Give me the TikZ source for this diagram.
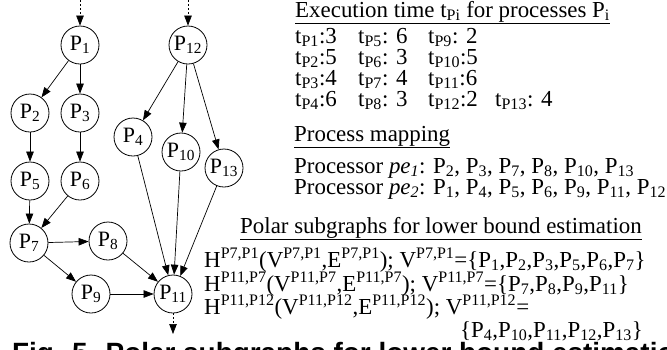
\documentclass[tikz,border=0pt]{standalone}
\usepackage{fontspec}
\setmainfont{Liberation Serif}
\newfontfamily\capfont{Liberation Sans}
\usetikzlibrary{arrows.meta}
\newcommand{\pname}[1]{P\textsubscript{#1}}
\newcommand{\tp}[1]{t\textsubscript{P#1}}
\newcommand{\hvset}[1]{H\textsuperscript{#1}(V\textsuperscript{#1},E\textsuperscript{#1}); V\textsuperscript{#1}=}
\tikzset{
	proc/.style={circle, draw=black, line width=0.8bp, inner sep=0pt, minimum size=38bp, font=\fontsize{22}{24}\selectfont},
	flow/.style={-{Triangle[length=10bp,width=7.5bp]}, line width=0.7bp},
	io/.style={flow, dash pattern=on 2bp off 2bp},
	txt/.style={anchor=base west, inner sep=0pt, font=\fontsize{23}{25}\selectfont}
}
\begin{document}
\begin{tikzpicture}[x=1bp, y=-1bp]
			\useasboundingbox (0,0) rectangle (667,349);

			\node[proc](p1) at (80,45){\pname{1}};
			\node[proc](p12) at (188,45){\pname{12}};
			\node[proc](p2) at (30,113){\pname{2}};
			\node[proc](p3) at (80,113){\pname{3}};
			\node[proc](p4) at (133,137){\pname{4}};
			\node[proc](p10) at (181,152){\pname{10}};
			\node[proc](p13) at (224,168){\pname{13}};
			\node[proc](p5) at (30,181){\pname{5}};
			\node[proc](p6) at (80,181){\pname{6}};
			\node[proc](p7) at (29,243){\pname{7}};
			\node[proc](p8) at (108,241){\pname{8}};
			\node[proc](p9) at (91,294){\pname{9}};
			\node[proc](p11) at (173,294){\pname{11}};

			\coordinate (in1) at (80,0);
			\coordinate (in12) at (188,0);
			\coordinate (out11) at (173,334);

			\draw[io] (in1) -- (p1);
			\draw[io] (in12) -- (p12);
			\draw[io] (p11) -- (out11);

			\draw[flow] (p1) -- (p2);
			\draw[flow] (p1) -- (p3);
			\draw[flow] (p2) -- (p5);
			\draw[flow] (p3) -- (p6);
			\draw[flow] (p5) -- (p7);
			\draw[flow] (p6) -- (p7);
			\draw[flow] (p7) -- (p8);
			\draw[flow] (p7) -- (p9);
			\draw[flow] (p8) -- (p11);
			\draw[flow] (p9) -- (p11);
			\draw[flow] (p12) -- (p4);
			\draw[flow] (p12) -- (p10);
			\draw[flow] (p12) -- (p13);
			\draw[flow] (p4) -- (p11);
			\draw[flow] (p10) -- (p11);
			\draw[flow] (p13) -- (p11);

			% execution times
			\node[txt](execHead) at (295,17){\underline{Execution time t\textsubscript{Pi} for processes P\textsubscript{i}}};
			\node[txt](execRow1) at (295,43){\makebox[63bp][l]{\tp{1}:3}\makebox[70bp][l]{\tp{5}: 6}\tp{9}: 2};
			\node[txt](execRow2) at (295,64){\makebox[63bp][l]{\tp{2}:5}\makebox[70bp][l]{\tp{6}: 3}\tp{10}:5};
			\node[txt](execRow3) at (295,85){\makebox[63bp][l]{\tp{3}:4}\makebox[70bp][l]{\tp{7}: 4}\tp{11}:6};
			\node[txt](execRow4) at (295,106){\makebox[63bp][l]{\tp{4}:6}\makebox[70bp][l]{\tp{8}: 3}\makebox[67bp][l]{\tp{12}:2}\tp{13}: 4};

			% mapping
			\node[txt](mapHead) at (294,141){\underline{Process mapping}};
			\node[txt](mapPe1) at (294,173){Processor \textit{pe\textsubscript{1}}: \pname{2}, \pname{3}, \pname{7}, \pname{8}, \pname{10}, \pname{13}};
			\node[txt](mapPe2) at (294,194){Processor \textit{pe\textsubscript{2}}: \pname{1}, \pname{4}, \pname{5}, \pname{6}, \pname{9}, \pname{11}, \pname{12}};

			% polar subgraphs
			\node[txt](polarHead) at (240,233){\underline{Polar subgraphs for lower bound estimation}};
			\node[txt](polar1) at (204,267){\hvset{P7,P1}\{\pname{1},\pname{2},\pname{3},\pname{5},\pname{6},\pname{7}\}};
			\node[txt](polar2) at (204,291){\hvset{P11,P7}\{\pname{7},\pname{8},\pname{9},\pname{11}\}};
			\node[txt](polar3) at (204,314){\hvset{P11,P12}};
			\node[txt](polar3b) at (460,337){\{\pname{4},\pname{10},\pname{11},\pname{12},\pname{13}\}};

			\node[anchor=base west, inner sep=0pt, font=\capfont\bfseries\fontsize{28}{30}\selectfont](caption) at (12,362){Fig. 5. Polar subgraphs for lower bound estimation};
		\end{tikzpicture}
\end{document}
